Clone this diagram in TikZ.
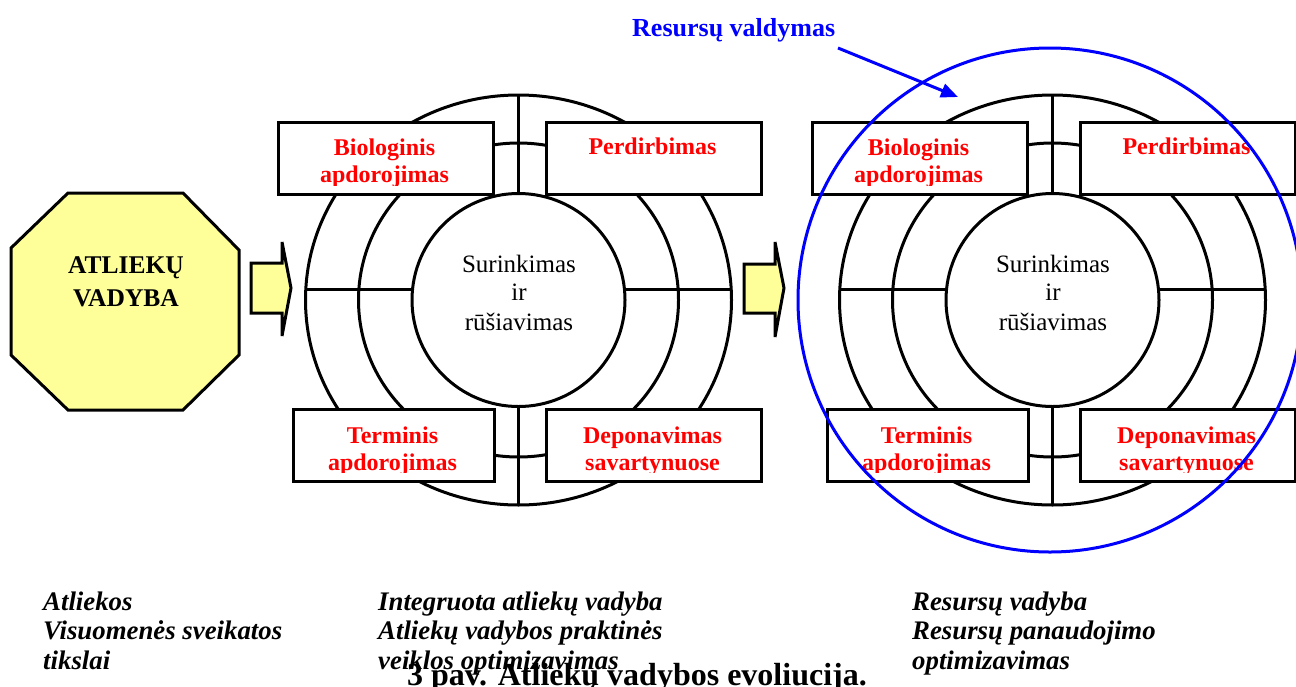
\documentclass[tikz,border=0pt]{standalone}
\usepackage{fontspec}
\setmainfont{Liberation Serif}
\usetikzlibrary{arrows.meta}
\definecolor{pale}{RGB}{255,255,153}
\definecolor{rred}{RGB}{255,0,0}
\definecolor{bblue}{RGB}{0,0,255}
\tikzset{
  ln/.style={line width=3pt, draw=black},
  pbox/.style={draw=black, line width=3pt, fill=white, inner sep=0pt, anchor=north west},
  redtxt/.style={anchor=base, inner sep=0pt, text=rred, font=\fontsize{24}{27}\selectfont\bfseries},
  cirtxt/.style={anchor=base, inner sep=0pt, text=black, font=\fontsize{25}{28}\selectfont},
  octtxt/.style={anchor=base, inner sep=0pt, text=black, font=\fontsize{25.5}{28}\selectfont\bfseries},
  bottxt/.style={anchor=base west, inner sep=0pt, text=black, font=\fontsize{26.8}{29}\selectfont\bfseries\itshape},
  captxt/.style={anchor=base west, inner sep=0pt, text=black, font=\fontsize{32}{34}\selectfont\bfseries},
  bluetxt/.style={anchor=base west, inner sep=0pt, text=bblue, font=\fontsize{26}{29}\selectfont\bfseries},
  blockarrow/.style={line width=3pt, draw=black, fill=pale, line join=miter},
}
\newcommand{\mywheel}[2]{%
\begin{scope}[xshift=#1pt]
  \draw[ln] (518.5,300) ellipse [x radius=213pt, y radius=205pt];
  \draw[ln] (518.5,300) ellipse [x radius=160pt, y radius=157pt];
  \draw[ln] (305.8,289) -- (413.1,289);
  \draw[ln] (623.9,289) -- (731.2,289);
  \draw[ln] (518.5,95) -- (518.5,193.5);
  \draw[ln] (518.5,406.5) -- (518.5,505);
  \node[pbox, minimum width=215pt, minimum height=72pt] (#2bio) at (277,121) {};
  \node[pbox, minimum width=215pt, minimum height=72pt] (#2per) at (545,121) {};
  \node[pbox, minimum width=201pt, minimum height=72pt] (#2ter) at (292,408) {};
  \node[pbox, minimum width=215pt, minimum height=72pt] (#2dep) at (545,408) {};
  \draw[ln, fill=white] (518.5,300) circle [radius=106.5pt];
  \begin{scope}
    \clip (#2bio.north west) rectangle ([yshift=11pt]#2bio.south east);
    \node[redtxt] (#2bioa) at (384.5,155) {Biologinis};
    \node[redtxt] (#2biob) at (384.5,182) {apdorojimas};
  \end{scope}
  \node[redtxt] (#2pera) at (652.5,154) {Perdirbimas};
  \begin{scope}
    \clip (#2ter.north west) rectangle ([yshift=11pt]#2ter.south east);
    \node[redtxt] (#2tera) at (392.5,443) {Terminis};
    \node[redtxt] (#2terb) at (392.5,470) {apdorojimas};
  \end{scope}
  \begin{scope}
    \clip (#2dep.north west) rectangle ([yshift=11pt]#2dep.south east);
    \node[redtxt] (#2depa) at (652.5,443) {Deponavimas};
    \node[redtxt] (#2depb) at (652.5,470) {savartynuose};
  \end{scope}
  \node[cirtxt] (#2sa) at (519,272) {Surinkimas};
  \node[cirtxt] (#2sb) at (519,300) {ir};
  \node[cirtxt] (#2sc) at (519,330.5) {rūšiavimas};
\end{scope}}
\begin{document}
\begin{tikzpicture}[x=1pt, y=-1pt]
  \useasboundingbox[fill=white] (0,0) rectangle (1296,686);
  % octagon
  \draw[ln, fill=pale, line join=miter] (68,193) -- (183,193) -- (239,250) -- (239,355) -- (183,410) -- (68,410) -- (11,355) -- (11,248) -- cycle;
  \node[octtxt] (oa) at (126,273) {ATLIEKŲ};
  \node[octtxt] (ob) at (126,306) {VADYBA};
  % block arrows
  \draw[blockarrow] (251,263) -- (282,263) -- (282,242) -- (291,288) -- (282,336) -- (282,313) -- (251,313) -- cycle;
  \draw[blockarrow] (744,264) -- (775,264) -- (775,242) -- (784,288) -- (775,337) -- (775,313) -- (744,313) -- cycle;
  % wheels
  \mywheel{0}{l}
  \mywheel{534}{r}
  % blue circle and label
  \draw[line width=3pt, draw=bblue] (1050,300) circle [radius=252pt];
  \node[bluetxt] (rv) at (632,36) {Resursų valdymas};
  \coordinate (rvs) at (838,48);
  \coordinate (rve) at (958,97);
  \draw[line width=3pt, draw=bblue, -{Triangle[length=17pt, width=14pt]}] (rvs) -- (rve);
  % bottom texts
  \node[bottxt] (a1) at (43,610) {Atliekos};
  \node[bottxt] (a2) at (43,639.5) {Visuomenės sveikatos};
  \node[bottxt] (a3) at (43,669.5) {tikslai};
  \node[bottxt] (b1) at (378,610) {Integruota atliekų vadyba};
  \node[bottxt] (b2) at (378,639.5) {Atliekų vadybos praktinės};
  \node[bottxt] (b3) at (378,669.5) {veiklos optimizavimas};
  \node[bottxt] (c1) at (912,610) {Resursų vadyba};
  \node[bottxt] (c2) at (912,639.5) {Resursų panaudojimo};
  \node[bottxt] (c3) at (912,669.5) {optimizavimas};
  \node[captxt] (cap) at (407,685) {3 pav. Atliekų vadybos evoliucija.};
\end{tikzpicture}
\end{document}
